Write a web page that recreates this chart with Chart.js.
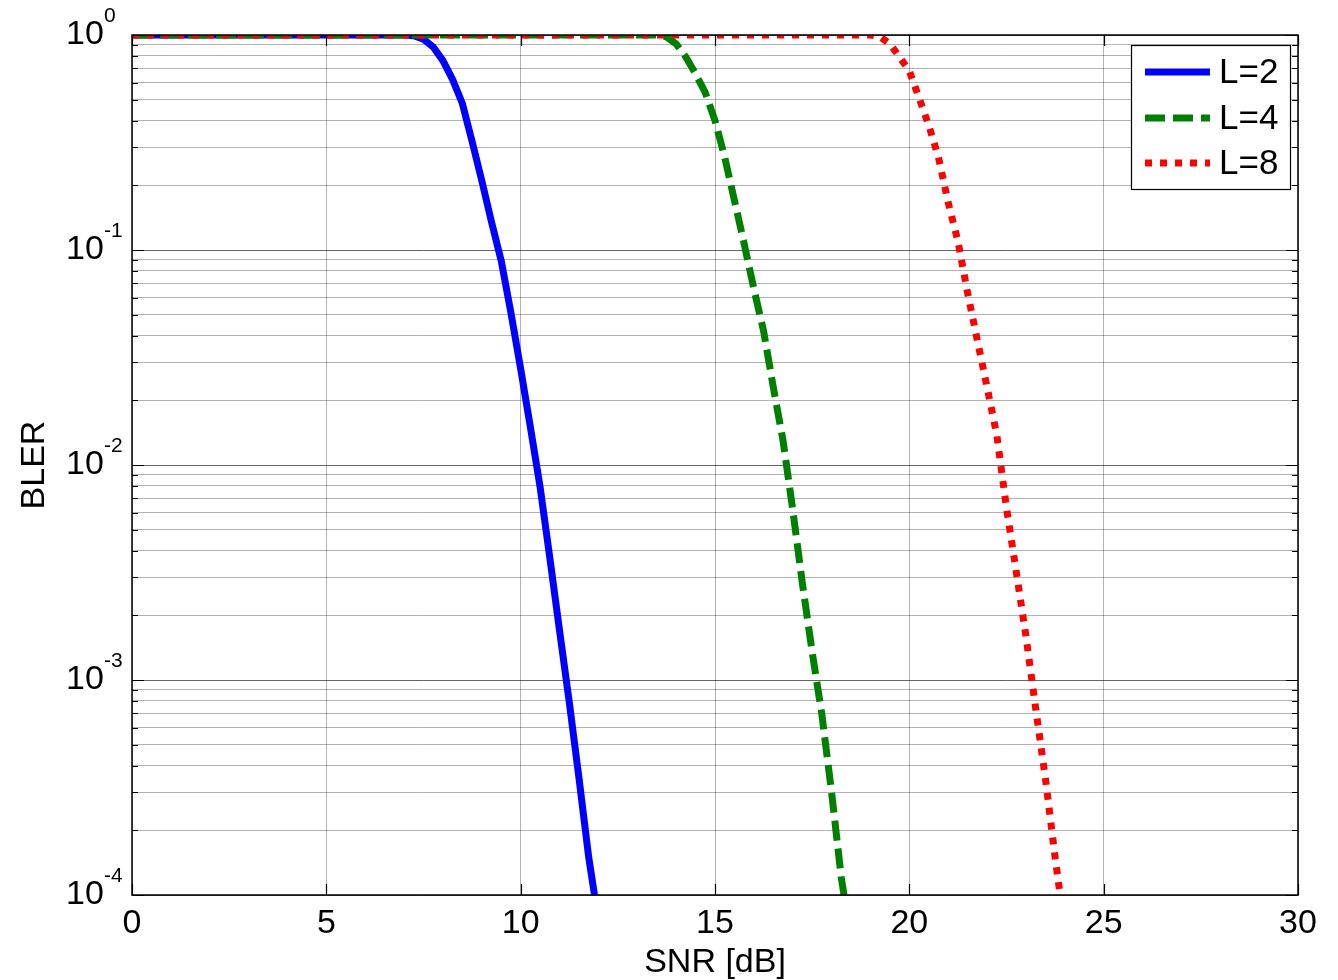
<!DOCTYPE html>
<html>
<head>
<meta charset="utf-8">
<script src="https://cdn.jsdelivr.net/npm/chart.js@4/dist/chart.umd.min.js"></script>
<style>
  html, body { margin: 0; padding: 0; background: #fff; }
  #wrap { width: 1338px; height: 980px; }
</style>
</head>
<body>
<div id="wrap"><canvas id="chart"></canvas></div>
<script>
// values
const snrL2 = [0, 7, 7.25, 7.5, 7.75, 8, 8.25, 8.5, 8.75, 9, 9.25, 9.5, 9.75, 10, 10.25, 10.5, 10.75, 11, 11.25, 11.5, 11.75, 11.9];
const blerL2 = [1, 1, 0.993, 0.955, 0.88, 0.76, 0.62, 0.48, 0.32, 0.21, 0.135, 0.089, 0.051, 0.028, 0.015, 7.9e-3, 3.7e-3, 1.7e-3, 7.9e-4, 3.5e-4, 1.5e-4, 1.0e-4];

const snrL4 = [0, 13.5, 13.75, 14, 14.25, 14.5, 14.75, 15, 15.25, 15.5, 15.75, 16, 16.25, 16.5, 16.75, 17, 17.25, 17.5, 17.75, 18, 18.25, 18.32];
const blerL4 = [1, 1, 0.98, 0.91, 0.79, 0.66, 0.54, 0.40, 0.27, 0.17, 0.107, 0.066, 0.042, 0.023, 0.013, 6.2e-3, 2.8e-3, 1.35e-3, 6.9e-4, 3.0e-4, 1.2e-4, 1.0e-4];

const snrL8 = [0, 19, 19.25, 19.5, 19.75, 20, 20.25, 20.5, 20.75, 21, 21.25, 21.5, 21.75, 22, 22.25, 22.5, 22.75, 23, 23.25, 23.5, 23.75, 23.88];
const blerL8 = [1, 1, 0.98, 0.91, 0.79, 0.68, 0.51, 0.38, 0.27, 0.166, 0.11, 0.063, 0.038, 0.023, 0.0138, 6.3e-3, 3.2e-3, 1.6e-3, 7.4e-4, 3.5e-4, 1.5e-4, 1.0e-4];

const seriesLabels = ['L=2', 'L=4', 'L=8'];
const xTicks = [0, 5, 10, 15, 20, 25, 30];
const yDecades = [1, 0.1, 0.01, 0.001, 0.0001];
const yDecadeExp = ['0', '-1', '-2', '-3', '-4'];
const yMinorSteps = [2, 3, 4, 5, 6, 7, 8, 9];

const FONT = '"Liberation Sans", Arial, Helvetica, sans-serif';

function toPoints(xs, ys) {
  return xs.map((x, i) => ({ x: x, y: ys[i] }));
}

// all y ticks: decades plus 2..9 minors between them
const yTickValues = [];
yDecades.forEach((d, i) => {
  yTickValues.push(d);
  if (i < yDecades.length - 1) {
    yMinorSteps.forEach(m => yTickValues.push(m * yDecades[i + 1]));
  }
});

const styles = [
  { color: '#0000ff', dash: [] },
  { color: '#008000', dash: [20, 8] },
  { color: '#ff0000', dash: [7, 8] },
];

// MATLAB-like frame, inward ticks, superscript y labels and boxed legend
const matlabLook = {
  id: 'matlabLook',
  afterDatasetsDraw(chart) {
    const ctx = chart.ctx;
    const a = chart.chartArea;
    const xs = chart.scales.x;
    const ys = chart.scales.y;
    ctx.save();
    ctx.strokeStyle = '#000';
    ctx.lineWidth = 1.5;
    ctx.strokeRect(a.left, a.top, a.right - a.left, a.bottom - a.top);

    ctx.lineWidth = 1.2;
    ctx.beginPath();
    xTicks.forEach(v => {
      const px = Math.round(xs.getPixelForValue(v)) + 0.5;
      ctx.moveTo(px, a.bottom); ctx.lineTo(px, a.bottom - 11);
      ctx.moveTo(px, a.top); ctx.lineTo(px, a.top + 11);
    });
    yTickValues.forEach(v => {
      const py = Math.round(ys.getPixelForValue(v)) + 0.5;
      const len = yDecades.includes(v) ? 12 : 6;
      ctx.moveTo(a.left, py); ctx.lineTo(a.left + len, py);
      ctx.moveTo(a.right, py); ctx.lineTo(a.right - len, py);
    });
    ctx.stroke();

    // y tick labels 10^k
    ctx.fillStyle = '#000';
    ctx.textAlign = 'left';
    ctx.textBaseline = 'middle';
    yDecades.forEach((v, i) => {
      const py = ys.getPixelForValue(v);
      ctx.font = '34px ' + FONT;
      ctx.fillText('10', 66, py);
      ctx.font = '21px ' + FONT;
      ctx.fillText(yDecadeExp[i], 104, py - 19);
    });

    // legend box
    const lx = 1131, ly = 45, lw = 159, lh = 144;
    ctx.fillStyle = '#fff';
    ctx.fillRect(lx, ly, lw, lh);
    ctx.strokeStyle = '#000';
    ctx.lineWidth = 1.2;
    ctx.strokeRect(lx + 0.5, ly + 0.5, lw, lh);
    const rows = [72, 118, 163];
    seriesLabels.forEach((lab, i) => {
      ctx.save();
      ctx.strokeStyle = styles[i].color;
      ctx.lineWidth = 7;
      ctx.lineCap = 'butt';
      ctx.setLineDash(styles[i].dash);
      ctx.beginPath();
      ctx.moveTo(1145, rows[i]);
      ctx.lineTo(1210, rows[i]);
      ctx.stroke();
      ctx.restore();
      ctx.fillStyle = '#000';
      ctx.font = '35px ' + FONT;
      ctx.textBaseline = 'middle';
      ctx.fillText(lab, 1219, rows[i] + 1);
    });
    ctx.restore();
  }
};

const datasets = [
  { snr: snrL2, bler: blerL2 },
  { snr: snrL4, bler: blerL4 },
  { snr: snrL8, bler: blerL8 },
].map((s, i) => ({
  label: seriesLabels[i],
  data: toPoints(s.snr, s.bler),
  borderColor: styles[i].color,
  backgroundColor: styles[i].color,
  borderWidth: 7,
  borderDash: styles[i].dash,
  borderCapStyle: 'butt',
  borderJoinStyle: 'round',
  pointRadius: 0,
  tension: 0,
  fill: false,
  clip: 0,
  order: 3 - i,
}));

new Chart(document.getElementById('chart'), {
  type: 'line',
  data: { datasets },
  plugins: [matlabLook],
  options: {
    responsive: true,
    maintainAspectRatio: false,
    animation: false,
    layout: { padding: { top: 35, right: 40, left: 0, bottom: 0 } },
    plugins: { legend: { display: false }, tooltip: { enabled: false } },
    scales: {
      x: {
        type: 'linear',
        min: 0,
        max: 30,
        afterBuildTicks: (scale) => { scale.ticks = xTicks.map(v => ({ value: v })); },
        afterFit: (scale) => { scale.height = 85; },
        grid: { color: 'rgba(0,0,0,0.3)', lineWidth: 1, drawTicks: false },
        border: { display: false },
        ticks: { color: '#000', font: { family: FONT, size: 34 }, padding: 8, maxRotation: 0 },
        title: { display: true, text: 'SNR [dB]', color: '#000', font: { family: FONT, size: 34, lineHeight: 1 }, padding: { top: 0, bottom: 0 } },
      },
      y: {
        type: 'logarithmic',
        min: 1e-4,
        max: 1,
        afterBuildTicks: (scale) => { scale.ticks = yTickValues.map(v => ({ value: v, major: yDecades.includes(v) })); },
        afterFit: (scale) => { scale.width = 132; },
        grid: {
          color: (c) => (c.tick && yDecades.includes(c.tick.value)) ? 'rgba(0,0,0,0.6)' : 'rgba(0,0,0,0.3)',
          lineWidth: 1,
          drawTicks: false,
        },
        border: { display: false },
        ticks: { display: false },
        title: { display: true, text: 'BLER', color: '#000', font: { family: FONT, size: 34, lineHeight: 1 }, padding: { top: 18, bottom: 0 } },
      },
    },
  },
});
</script>
</body>
</html>
